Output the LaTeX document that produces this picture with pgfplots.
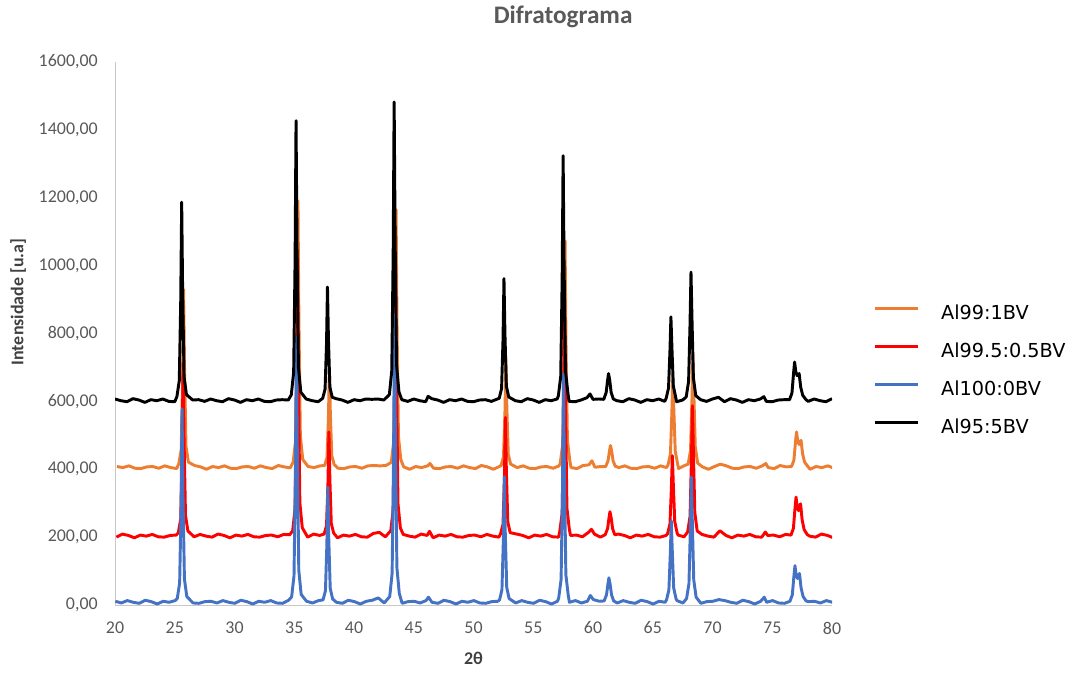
\documentclass[border=0pt]{standalone}
\usepackage{fontspec}
\setmainfont{Carlito}
\newfontfamily\legfont{DejaVu Sans}
\usepackage{pgfplots}
\usepackage{pgfplotstable}
\pgfplotsset{compat=1.18}
\definecolor{xlorange}{RGB}{237,125,49}
\definecolor{xlblue}{RGB}{68,114,196}
\definecolor{xlred}{RGB}{255,0,0}
\definecolor{tickgray}{RGB}{89,89,89}
\definecolor{labelgray}{RGB}{64,64,64}
\definecolor{axisgray}{RGB}{200,200,200}
\pgfplotstableread{
x bl rd or bk
20.0 11 200 408 607
20.5 6 209 405 602
21.0 13 205 410 599
21.5 8 198 403 608
22.0 5 206 402 604
22.5 14 203 407 597
23.0 10 208 408 605
23.5 3 201 403 602
24.0 11 200 410 607
24.5 8 205 405 600
25.0 13 206 402 599
25.18 19 213 416 614
25.38 65 254 458 661
25.50 293 458 668 895
25.58 578 713 930 1187
25.66 322 484 694 924
25.78 76 264 468 672
25.98 25 218 421 620
26.5 6 201 411 604
27.0 5 208 407 605
27.5 10 203 400 600
28.0 11 200 408 607
28.5 6 209 405 602
29.0 13 205 410 599
29.5 8 198 403 608
30.0 5 206 402 604
30.5 14 203 407 597
31.0 10 208 408 605
31.5 3 201 403 602
32.0 11 200 410 607
32.5 8 205 405 600
33.0 13 206 402 599
33.5 6 201 411 604
34.0 5 208 407 605
34.5 14 207 404 604
34.75 24 219 421 619
34.95 86 285 484 685
35.07 399 612 798 1015
35.15 790 1021 1191 1427
35.23 438 653 837 1056
35.35 102 301 499 701
35.55 31 228 429 627
36.0 11 200 408 607
36.5 6 209 405 602
37.0 13 205 410 599
37.38 15 209 411 609
37.58 42 234 434 636
37.70 178 357 552 770
37.78 347 510 698 937
37.86 194 372 566 786
37.98 49 240 440 642
38.18 18 212 414 612
38.5 8 198 403 608
39.0 5 206 402 604
39.5 14 203 407 597
40.0 10 208 408 605
40.5 3 201 403 602
41.0 11 200 410 607
41.5 14 211 411 606
42.0 21 214 410 607
42.5 6 201 411 604
42.96 25 219 420 620
43.16 93 283 481 690
43.28 433 603 785 1042
43.36 858 1003 1165 1482
43.44 476 643 823 1086
43.56 110 299 496 708
43.76 34 227 428 628
44.0 5 208 407 605
44.5 10 203 400 600
45.0 11 200 408 607
45.5 6 209 405 602
46.0 13 205 410 599
46.2 23 217 417 615
46.5 8 198 403 608
47.0 5 206 402 604
47.5 14 203 407 597
48.0 10 208 408 605
48.5 3 201 403 602
49.0 11 200 410 607
49.5 8 205 405 600
50.0 13 206 402 599
50.5 6 201 411 604
51.0 5 208 407 605
51.5 10 203 400 600
52.0 11 200 408 607
52.15 15 210 411 609
52.35 45 238 437 638
52.47 193 378 565 782
52.55 378 553 725 962
52.63 212 396 581 800
52.75 52 245 443 645
52.95 19 213 415 613
53.5 6 209 405 602
54.0 13 205 410 599
54.5 8 198 403 608
55.0 5 206 402 604
55.5 14 203 407 597
56.0 10 208 408 605
56.5 3 201 403 602
57.0 11 200 410 607
57.10 21 217 418 616
57.30 75 271 472 674
57.42 344 543 739 963
57.50 681 883 1073 1324
57.58 378 577 772 999
57.70 89 285 485 689
57.90 28 223 425 624
58.0 8 205 405 600
58.5 13 206 402 599
59.0 6 201 411 604
59.5 11 214 413 611
59.75 28 223 425 622
60.0 16 209 406 606
60.5 11 200 408 607
60.90 12 207 408 606
61.10 30 225 425 626
61.22 62 257 454 662
61.30 80 275 470 682
61.40 62 257 454 662
61.52 30 225 425 626
61.70 12 207 409 607
62.0 6 209 405 602
62.5 13 205 410 599
63.0 8 198 403 608
63.5 5 206 402 604
64.0 14 203 407 597
64.5 10 208 408 605
65.0 3 201 403 602
65.5 11 200 410 607
66.0 8 205 405 600
66.12 15 210 413 609
66.32 44 239 445 639
66.44 152 345 567 750
66.52 248 440 675 849
66.60 164 357 580 763
66.72 51 246 454 646
66.92 18 212 416 612
67.0 13 206 402 599
67.5 6 201 411 604
67.80 19 215 415 613
68.00 63 261 455 659
68.12 229 433 604 829
68.20 377 587 737 981
68.28 248 453 621 848
68.40 74 272 465 670
68.60 23 218 418 617
69.0 5 208 407 605
69.5 10 203 400 600
70.0 11 200 408 607
70.5 16 219 415 612
71.0 13 205 410 599
71.5 8 198 403 608
72.0 5 206 402 604
72.5 14 203 407 597
73.0 10 208 408 605
73.5 3 201 403 602
74.0 11 200 410 607
74.3 23 215 417 614
74.5 8 205 405 600
75.0 13 206 402 599
75.5 6 201 411 604
76.0 5 208 407 605
76.45 11 206 408 605
76.65 30 226 426 625
76.78 84 283 479 682
76.87 116 318 510 716
76.97 89 289 484 688
77.08 78 278 473 676
77.18 88 293 481 678
77.25 93 298 485 682
77.38 51 251 445 642
77.55 25 222 421 618
77.80 12 208 409 606
78.0 10 203 400 600
78.5 11 200 408 607
79.0 6 209 405 602
79.5 13 205 410 599
80.0 8 198 403 608
}\data
\begin{document}
\begin{tikzpicture}
\begin{axis}[
  scale only axis,
  width=537.75bp, height=407.25bp,
  xmin=20, xmax=80, ymin=0, ymax=1600,
  axis lines*=left,
  axis line style={draw=axisgray, line width=0.75bp},
  major tick length=0pt,
  xtick={20,25,...,80},
  xticklabels={20,25,30,35,40,45,50,55,60,65,70,75,80},
  ytick={0,200,...,1600},
  yticklabels={{0,00},{200,00},{400,00},{600,00},{800,00},{1000,00},{1200,00},{1400,00},{1600,00}},
  tick label style={font=\fontsize{13.5}{16}\selectfont, text=tickgray, inner sep=0pt},
  yticklabel style={anchor=east, xshift=-12.75bp},
  xticklabel style={anchor=north, yshift=-12.4bp},
  title={Difratograma},
  title style={at={(axis description cs:0.625,1.068)}, anchor=center, font=\bfseries\fontsize{19}{22}\selectfont, text=tickgray},
  xlabel={2θ},
  xlabel style={at={(axis description cs:0.5,-0.099)}, anchor=center, font=\bfseries\fontsize{13.5}{16}\selectfont, text=labelgray},
  ylabel={Intensidade [u.a]},
  ylabel style={at={(axis description cs:-0.135,0.558)}, anchor=center, font=\bfseries\fontsize{13.5}{16}\selectfont, text=labelgray},
  legend cell align=left,
  legend image code/.code={\draw[#1] (0bp,2bp) -- (32bp,2bp);},
  legend style={draw=none, fill=none, at={(axis description cs:1.0572,0.556)}, anchor=north west,
    font=\legfont\fontsize{14.5}{17}\selectfont, row sep=16.5bp, inner sep=0pt,
    nodes={inner sep=0pt, text height=12bp, text depth=0pt},
    /tikz/every odd column/.append style={column sep=16.5bp}},
]
\addplot[xlorange, line width=2.2bp, line join=round, forget plot] table[x expr=\thisrow{x}+0.16, y=or] {\data};
\addplot[xlred, line width=2.2bp, line join=round, forget plot] table[x expr=\thisrow{x}+0.12, y=rd] {\data};
\addplot[xlblue, line width=2.2bp, line join=round, forget plot] table[x expr=\thisrow{x}+0.03, y=bl] {\data};
\addplot[black, line width=2.2bp, line join=round, forget plot] table[x=x, y=bk] {\data};
\addlegendimage{xlorange, line width=2.4bp}
\addlegendentry{Al99:1BV}
\addlegendimage{xlred, line width=2.4bp}
\addlegendentry{Al99.5:0.5BV}
\addlegendimage{xlblue, line width=2.4bp}
\addlegendentry{Al100:0BV}
\addlegendimage{black, line width=2.4bp}
\addlegendentry{Al95:5BV}
\end{axis}
\path ([xshift=-86.25bp, yshift=-50.25bp]current axis.south west) rectangle ([xshift=183.75bp, yshift=46.5bp]current axis.north east);
\end{tikzpicture}
\end{document}
